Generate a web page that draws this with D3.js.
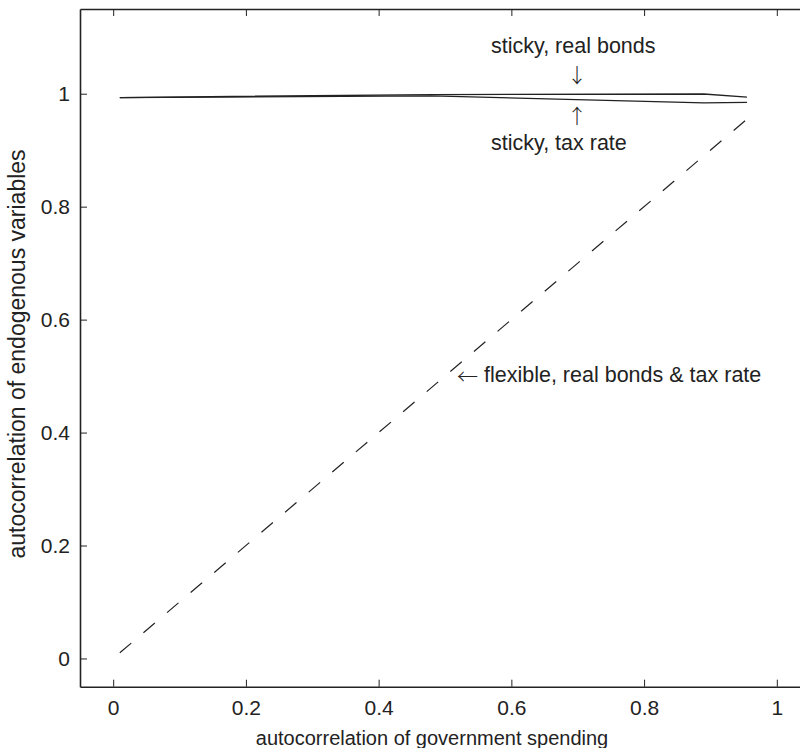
<!DOCTYPE html>
<html>
<head>
<meta charset="utf-8">
<script src="https://cdn.jsdelivr.net/npm/d3@7"></script>
<style>
  html, body { margin: 0; padding: 0; background: #fff; }
  svg text { font-family: "Liberation Sans", Arial, Helvetica, sans-serif; fill: #222; }
  svg text.arrow { font-family: "Noto Sans CJK JP", "DejaVu Sans", sans-serif; font-weight: 300; fill: #222; }
</style>
</head>
<body>
<svg id="chart" width="800" height="748"></svg>
<script>
// Persistence of government spending (x) versus autocorrelation of endogenous variables (y)
const gSpending   = [0.01, 0.48, 0.89, 0.955];
const stickyBonds = [0.9932, 0.9985, 0.9995, 0.9938];
const stickyTax   = [0.9930, 0.9962, 0.9838, 0.9848];
const flexX       = [0.01, 0.955];
const flexY       = [0.01, 0.955];
const xTicks      = [0, 0.2, 0.4, 0.6, 0.8, 1];
const yTicks      = [0, 0.2, 0.4, 0.6, 0.8, 1];

const svg = d3.select("#chart");
const plotLeft = 80, plotTop = 9, plotRight = 810, plotBottom = 686.7;

const x = d3.scaleLinear().domain([-0.05, 1.05]).range([plotLeft, plotRight]);
const y = d3.scaleLinear().domain([-0.05, 1.15]).range([plotBottom, plotTop]);
const fmt = d => d === 0 || d === 1 ? String(d) : d3.format(".1f")(d);
const ink = "#222";

// axes with inward ticks on all four sides
const gx = svg.append("g").attr("transform", `translate(0,${plotBottom})`)
  .call(d3.axisBottom(x).tickValues(xTicks).tickFormat(fmt).tickSize(-7).tickSizeOuter(0).tickPadding(13));
const gxt = svg.append("g").attr("transform", `translate(0,${plotTop})`)
  .call(d3.axisTop(x).tickValues(xTicks).tickFormat("").tickSize(-7).tickSizeOuter(0));
const gy = svg.append("g").attr("transform", `translate(${plotLeft},0)`)
  .call(d3.axisLeft(y).tickValues(yTicks).tickFormat(fmt).tickSize(-7).tickSizeOuter(0).tickPadding(10));
const gyr = svg.append("g").attr("transform", `translate(${plotRight},0)`)
  .call(d3.axisRight(y).tickValues(yTicks).tickFormat("").tickSize(-7).tickSizeOuter(0));

[gx, gxt, gy, gyr].forEach(g => {
  g.select(".domain").attr("stroke", ink).attr("stroke-width", 1.6);
  g.selectAll(".tick line").attr("stroke", ink).attr("stroke-width", 1);
  g.selectAll(".tick text").attr("font-size", 21).style("fill", ink)
    .attr("font-family", "'Liberation Sans', Arial, sans-serif");
});

// series
const line = d3.line().x(d => x(d[0])).y(d => y(d[1]));
const plot = svg.append("g");
plot.append("path").datum(d3.zip(gSpending, stickyBonds)).attr("d", line)
  .attr("fill", "none").attr("stroke", ink).attr("stroke-width", 1.3);
plot.append("path").datum(d3.zip(gSpending, stickyTax)).attr("d", line)
  .attr("fill", "none").attr("stroke", ink).attr("stroke-width", 1.3);
plot.append("path").datum(d3.zip(flexX, flexY)).attr("d", line)
  .attr("fill", "none").attr("stroke", ink).attr("stroke-width", 1.2)
  .attr("stroke-dasharray", "15,16");

// annotations
const ann = svg.append("g").attr("font-size", 21.5);
ann.append("text").attr("x", 491).attr("y", 53).text("sticky, real bonds");
ann.append("text").attr("class", "arrow").attr("x", 577).attr("y", 83).attr("font-size", 20)
  .attr("text-anchor", "middle").text("↓");
ann.append("text").attr("class", "arrow").attr("x", 577).attr("y", 124).attr("font-size", 20)
  .attr("text-anchor", "middle").text("↑");
ann.append("text").attr("x", 491).attr("y", 150).text("sticky, tax rate");
ann.append("text").attr("class", "arrow").attr("x", 457).attr("y", 384).attr("font-size", 21).text("←");
ann.append("text").attr("x", 484).attr("y", 382).text("flexible, real bonds & tax rate");

// axis titles
svg.append("text").attr("x", 432).attr("y", 745).attr("text-anchor", "middle")
  .attr("font-size", 20).text("autocorrelation of government spending");
svg.append("text").attr("transform", `translate(25,354) rotate(-90)`).attr("text-anchor", "middle")
  .attr("font-size", 23).text("autocorrelation of endogenous variables");
</script>
</body>
</html>
